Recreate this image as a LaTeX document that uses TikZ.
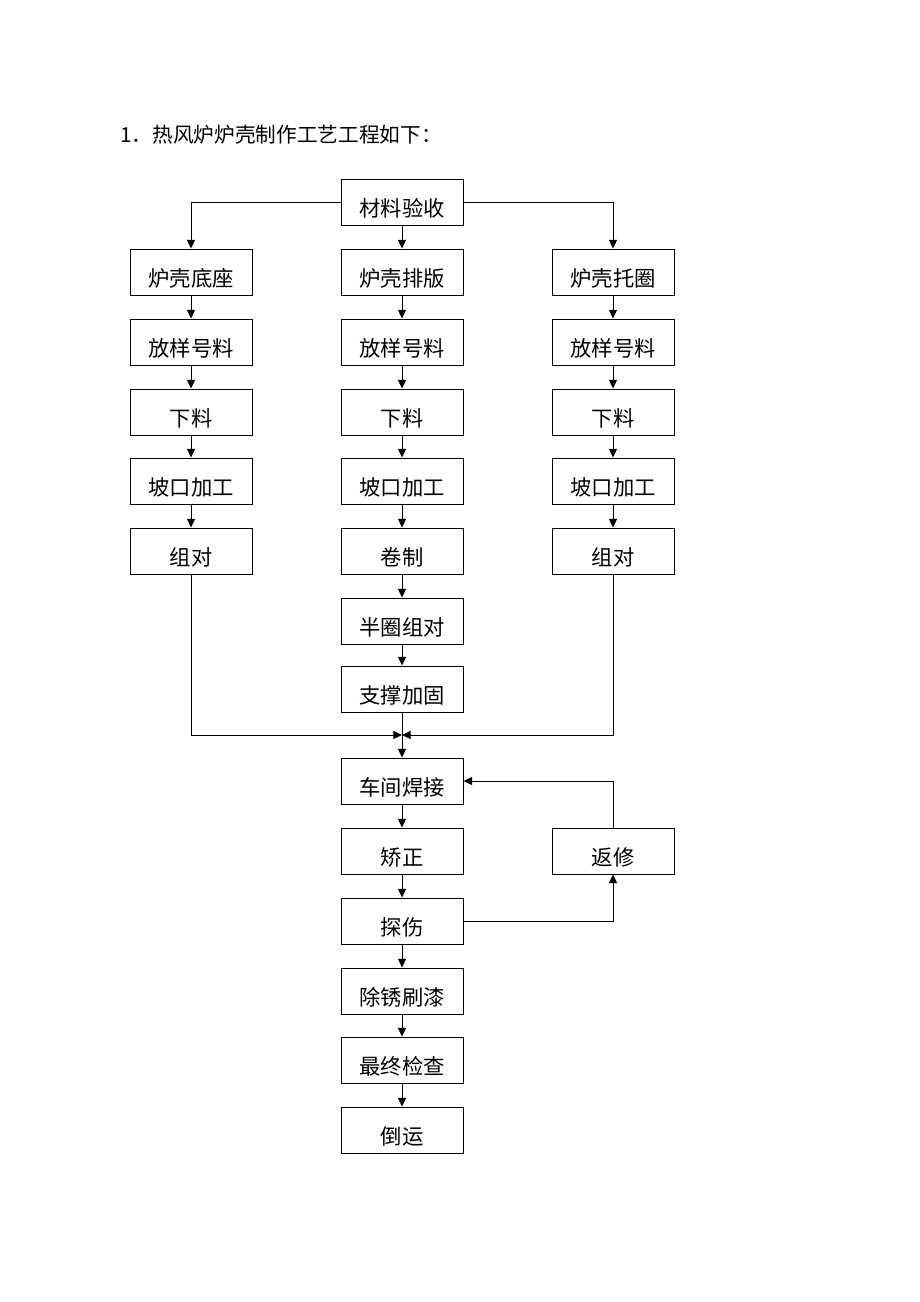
\documentclass[tikz,border=0pt]{standalone}
\usepackage{fontspec}
\setmainfont{Noto Sans CJK SC}
\usetikzlibrary{arrows.meta}

\tikzset{
  box/.style={draw, line width=0.7pt, minimum width=91.5pt, minimum height=34.5pt, inner sep=0pt, text height=21pt, text depth=0pt, font=\fontsize{16}{19}\selectfont},
  arr/.style={-{Triangle[length=6.5pt,width=6pt]}, line width=0.7pt}
}

\begin{document}
\begin{tikzpicture}[x=0.75pt,y=0.75pt,yscale=-1,xscale=1]
			%set diagram size 920 x 1302
			\path (0,0) rectangle (920,1302);
			
			% Text Node
			\node (title) at (120,135) [anchor=west, inner sep=0pt, font=\fontsize{15.5}{18}\selectfont] {1．热风炉炉壳制作工艺工程如下：};
			
			% Top box
			\node (clys) at (402,202) [box] {材料验收};
			
			% Left column
			\node (lkdz) at (191,272) [box] {炉壳底座};
			\node (fyhl1) at (191,342) [box] {放样号料};
			\node (xl1) at (191,412) [box] {下料};
			\node (pkjg1) at (191,481) [box] {坡口加工};
			\node (zd1) at (191,551) [box] {组对};
			
			% Middle column
			\node (lkpb) at (402,272) [box] {炉壳排版};
			\node (fyhl2) at (402,342) [box] {放样号料};
			\node (xl2) at (402,412) [box] {下料};
			\node (pkjg2) at (402,481) [box] {坡口加工};
			\node (jz) at (402,551) [box] {卷制};
			\node (bqzd) at (402,621) [box] {半圈组对};
			\node (zcjg) at (402,689) [box] {支撑加固};
			
			% Right column
			\node (lktq) at (613,272) [box] {炉壳托圈};
			\node (fyhl3) at (613,342) [box] {放样号料};
			\node (xl3) at (613,412) [box] {下料};
			\node (pkjg3) at (613,481) [box] {坡口加工};
			\node (zd3) at (613,551) [box] {组对};
			
			% Lower column
			\node (cjhj) at (402,781) [box] {车间焊接};
			\node (jiaoz) at (402,851) [box] {矫正};
			\node (ts) at (402,921) [box] {探伤};
			\node (cxsq) at (402,991) [box] {除锈刷漆};
			\node (zzjc) at (402,1060) [box] {最终检查};
			\node (dy) at (402,1130) [box] {倒运};
			\node (fx) at (613,851) [box] {返修};
			
			\coordinate (hz) at (402,735);
			
			% Arrows from top box
			\draw[arr] (clys) -- (lkpb);
			\draw[arr] (clys.west) -| (lkdz.north);
			\draw[arr] (clys.east) -| (lktq.north);
			
			% Column arrows
			\draw[arr] (lkdz) -- (fyhl1);
			\draw[arr] (fyhl1) -- (xl1);
			\draw[arr] (xl1) -- (pkjg1);
			\draw[arr] (pkjg1) -- (zd1);
			\draw[arr] (lkpb) -- (fyhl2);
			\draw[arr] (fyhl2) -- (xl2);
			\draw[arr] (xl2) -- (pkjg2);
			\draw[arr] (pkjg2) -- (jz);
			\draw[arr] (jz) -- (bqzd);
			\draw[arr] (bqzd) -- (zcjg);
			\draw[arr] (lktq) -- (fyhl3);
			\draw[arr] (fyhl3) -- (xl3);
			\draw[arr] (xl3) -- (pkjg3);
			\draw[arr] (pkjg3) -- (zd3);
			
			% Merge
			\draw[arr] (zd1.south) |- (hz);
			\draw[arr] (zd3.south) |- (hz);
			\draw[arr] (zcjg) -- (cjhj);
			
			% Lower arrows
			\draw[arr] (cjhj) -- (jiaoz);
			\draw[arr] (jiaoz) -- (ts);
			\draw[arr] (ts) -- (cxsq);
			\draw[arr] (cxsq) -- (zzjc);
			\draw[arr] (zzjc) -- (dy);
			
			% Repair loop
			\draw[arr] (ts.east) -| (fx.south);
			\draw[arr] (fx.north) |- (cjhj.east);
			
		\end{tikzpicture}
\end{document}
